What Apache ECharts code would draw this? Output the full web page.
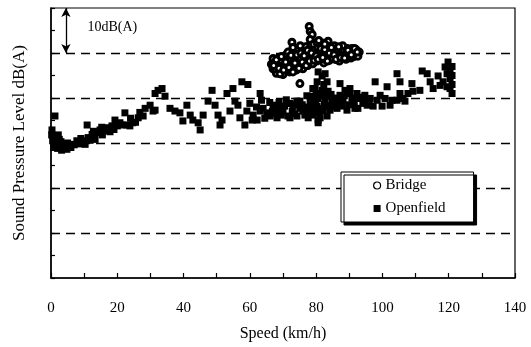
<!DOCTYPE html>
<html>
<head>
<meta charset="utf-8">
<script src="https://cdn.jsdelivr.net/npm/echarts@6/dist/echarts.min.js"></script>
<style>
html,body{margin:0;padding:0;background:#fff;}
#chart{width:531px;height:347px;}
</style>
</head>
<body>
<div id="chart"></div>
<script>
// Speed (km/h) vs Sound Pressure Level dB(A) (relative scale, 10 dB per dashed line)
const xTicks = [0, 20, 40, 60, 80, 100, 120, 140];
const seriesNames = ['Bridge', 'Openfield'];

const bridge = [
  [66.5,87.5],[67,86.5],[67.5,88.2],[68,85.5],[68.2,87],[68.8,89],[69,86],[69.5,87.8],[70,85.2],[70.2,88.5],
  [70.8,86.8],[71,89.6],[71.5,87.5],[72,85.8],[72.2,88.8],[72.8,90.2],[73,87],[73.5,89.2],[74,86.2],[74.2,88],
  [74.8,90.5],[75,87.5],[75.5,89],[76,86.8],[76.2,90.8],[76.8,88.3],[77,89.8],
  [77.5,87.2],[78,90.4],[78.3,88.6],[78.8,91],[79,87.6],[79.5,89.5],[80,90.8],[80.2,88.2],[80.8,89.9],
  [81,91.5],[81.5,88.8],[82,90.4],[82.3,87.8],[82.8,91.2],[83,89.2],[83.5,90.6],[84,88.4],[84.2,91.4],
  [84.8,89.6],[85.2,90.8],[85.8,88.6],[86,91.2],[86.5,89.8],[87,88.2],[87.3,90.6],[87.8,91.3],[88.2,89.4],
  [88.6,90.4],[89,88.6],[89.4,91],[89.8,89.8],[90.2,90.6],[90.5,88.9],[91,90],[91.4,89.2],[91.8,90.5],[92.2,89.6],
  [77.9,95.9],[78.2,94.8],[78.8,94.1],[78.2,93],[79,91.9],[77.6,91.5],[72.7,92.4],[83.6,92.6],[83.3,91.5],
  [75.1,83.2],[69.1,85.4],[67.6,86.5],[76,86.5],[90.2,89.1],[92.6,89.3],
  [67,88.8],[68.5,87.8],[69.2,88.4],[70.5,87.2],[71.2,86.2],[71.8,88.4],[72.5,87.4],[73.2,88.2],[73.8,90],
  [74.5,87.2],[75.2,88.6],[75.8,90.2],[76.5,87.6],[77.2,88.8],[77.8,89.6],[78.5,89.2],[79.2,90.6],[79.8,88.8],
  [80.5,91.2],[81.2,90.2],[81.8,89.4],[82.5,88.6],[83.2,90],[83.8,91],[84.5,90.2],[85,88.8],[85.5,91.6],
  [86.2,90.4],[86.8,89.2],[87.5,89.8],[88,90.8],[88.8,89.6],[89.2,90.2],[90,89.4],[90.8,91],[91.2,89.8],
  [92,90.8],[93,90.2],[80.2,92.4],[81.8,92.2],[76.8,91.4],[74,91],
  [67.2,87.2],[68,88.5],[68.8,86.6],[69.5,89.2],[70.2,86.2],[70.8,88],[71.5,90.2],[71.8,86.8],[72.4,89.5],
  [73,85.8],[73.6,87.8],[74.2,89.6],[74.8,86.6],[75.4,90],[75.8,88],[76.4,89.4],[77,87.2],[77.4,90.6],
  [78,88.2],[78.6,90],[79.4,88.4],[80,89.4],[80.6,88.6],[81.4,91],[82,89],[82.6,90.8],[83.4,88.2],[84,90],
  [84.6,91.2],[85.4,89.6],[86,88.6],[86.6,90.8],[87.4,89],[88,91.6],[88.6,88.9],[89.6,90.6],[90.6,89.6],
  [91.6,91],[92.4,90.2],[86.8,91.4],[80.8,92.8],[82.6,92],[75.2,91.6],[73,91.2]
];

const openfield = [
  [1.2,76],[0.3,72.9],[0.6,71.6],[1.8,70.5],[2.7,69.7],[3.6,69],[4.8,68.6],[1.2,69.5],[0.5,70.5],[2.2,71.8],
  [3,70.3],[4.2,69.8],[5.5,69.2],
  [0.2,71.8],[0.8,69],[1.5,71],[2,68.8],[2.5,70.8],[3.2,68.4],[4,69.2],[5,70],[6,69],[7,69.6],[8.5,69.8],
  [9,71],[11.8,70.6],[12.8,72.6],[15.5,71.8],[15.3,73.5],[17.8,72.5],[19,73],[20,73.8],[21.5,74],[24,75.5],
  [25.5,74.6],[26.8,76.8],
  [6.3,69.7],[7.8,70.5],[9.4,70.5],[10.3,69.7],[11.2,71.2],[10.9,74],[12.4,71.9],[13.9,72.3],[13.3,70.8],
  [14.8,72.9],[16.3,72.7],[17.2,73.4],[18.4,73.8],[19.3,75.1],[20.8,74.5],[22.3,76.7],[22.9,74],[23.8,73.8],
  [24.7,74.5],[26.3,75.6],[27.8,76],[28.4,77.7],[29.9,78.4],[30.8,77.1],
  [32.3,81.7],[33.5,82.1],[34.4,80.4],[31.4,81],[31.4,77.3],
  [35.9,77.7],[37.4,77.1],[38.9,76.7],[41,78.4],[39.8,74.9],[42,76.2],[42.8,75.1],[44.4,74.5],[45,72.9],[45.9,76.2],
  [48.6,81.7],[47.4,79.3],[49.5,78.4],[50.4,76.2],[51.6,75.1],[51,74],[53.1,81],[54,77.1],[54.9,82.1],[55.5,79.3],
  [56.4,78.4],[57.6,83.6],[59.4,83],[57,75.6],[58.5,74],[59.1,77.1],[60,78.8],[61,76.2],[62.2,75.1],[63.1,81],
  [64,77.7],[65.2,76.7],
  [60.7,75.1],[66.1,76],[68.2,77.7],[70,77.1],[71.5,76],[72.1,78.8],[74.2,79.3],[75.1,77.7],[76.6,76.2],
  [78.2,79.9],[79,82.1],[80.3,83.6],[81.8,84.9],[82.1,77.1],[80.6,75.1],[77.6,75.6],
  [62,78],[63.5,79.5],[64.5,75.5],[66,79],[66.8,77],[67.8,76.5],[68.8,79],[69.5,76.2],[70.5,78.2],[71,79.6],
  [72.8,77],[73.5,76.5],[74,78.5],[75.8,78.5],[76.8,78],[77.2,80.5],[77.8,77],[78.5,76.8],[79.5,77.5],[79.8,79],
  [80,81],[80.8,76.8],[81.5,80.5],[82.3,83],[82.5,78.6],[83,80.4],[83.8,78.3],[84.5,80.8],[85,78],[85.5,80],
  [86,79],[86.8,79.2],[87.8,78.2],[88.5,80.5],[89.8,78.5],[90.8,80],[91.5,78.8],[93.8,80.2],[95,79.5],[96,78.8],
  [80.6,85.8],[82.7,85.4],[83.3,83.6],[79.7,82.1],[81.8,81.7],[83.6,81.5],[78.8,80.4],[80.6,79.9],[82.7,79.5],
  [84.8,79.3],[78.2,78.4],[80.3,78.2],[82.1,77.7],[84.2,77.3],[79.1,76.2],[81.2,75.6],[83.3,76],[80.6,74.5],
  [67,78.4],[69.1,77.7],[71.2,78.8],[73,78.2],[75.1,79.3],[76,77.1],[74.2,76],[72.1,75.6],[65.2,76.2],
  [63.1,77.1],[68.2,75.6],
  [87.2,83.2],[88.7,81.7],[90.2,81],[88.1,79.5],[92.3,79.9],[94.1,78.8],[86.3,77.7],[89.3,77.3],[91.7,77.7],[87.2,80.6],
  [97.8,83.6],[101.4,82.5],[104.4,85.4],[105.3,83.6],[108.9,83.2],[112,86],[113.5,85.4],[116.8,84.9],[118.9,86.9],
  [119.8,88],[120.4,84.3],[120.4,82.1],[121,81],[118.3,83.6],[117.4,82.8],[115.3,82.1],[114.4,83.6],[111.3,81.7],
  [109.2,81.5],[107.7,81],[106.2,79.9],[105.3,81],[106.8,79.3],[104.4,79.5],[102.9,79.5],[100.8,79.9],[99.3,80.6],
  [98.4,79.5],[96.3,79.9],[94.7,80.6],[93.2,79.9],[92.3,81],[95.4,78.4],[92.6,77.7],[91.1,79.3],[90.2,82.1],
  [102.3,78.4],[99.9,78.2],[97.2,78.2],[120.4,86.5],[119.5,85.4],[121,87],[121,85],[121,83],[119.5,82.5]
];

const arrowSpan = [[4.5, 100], [4.5, 90]];
const arrowLabel = '10dB(A)';
const arrowLabelPos = [11, 95.7];

const font = 'Liberation Serif';
const chart = echarts.init(document.getElementById('chart'), null, {renderer: 'canvas'});
chart.setOption({
  animation: false,
  backgroundColor: '#fff',
  textStyle: {fontFamily: font, color: '#000'},
  grid: {left: 51, right: 16, top: 8, bottom: 64, show: true, borderColor: '#000', borderWidth: 1.2, backgroundColor: 'transparent'},
  legend: {
    data: [
      {name: seriesNames[0], icon: 'circle', itemStyle: {color: '#fff', borderColor: '#000', borderWidth: 1.2}},
      {name: seriesNames[1], icon: 'rect'}
    ],
    orient: 'vertical',
    left: 341, top: 172,
    padding: [6, 28, 6, 32],
    itemGap: 8,
    itemWidth: 7, itemHeight: 7,
    backgroundColor: '#fff',
    borderColor: '#000', borderWidth: 1,
    shadowColor: '#000', shadowBlur: 0, shadowOffsetX: 3, shadowOffsetY: 3,
    textStyle: {fontFamily: font, fontSize: 15, color: '#000'}
  },
  xAxis: {
    type: 'value', min: xTicks[0], max: xTicks[xTicks.length - 1], interval: 10,
    name: 'Speed (km/h)', nameLocation: 'middle', nameGap: 48,
    nameTextStyle: {fontFamily: font, fontSize: 16, color: '#000'},
    axisLine: {lineStyle: {color: '#000', width: 1.5}},
    axisTick: {inside: true, length: 5, lineStyle: {color: '#000', width: 1.2}},
    axisLabel: {margin: 23, fontFamily: font, fontSize: 15, color: '#000',
      formatter: v => (xTicks.indexOf(v) >= 0 ? String(v) : '')},
    splitLine: {show: false}
  },
  yAxis: {
    type: 'value', min: 40, max: 100, interval: 10,
    name: 'Sound Pressure Level dB(A)', nameLocation: 'middle', nameGap: 23,
    nameTextStyle: {fontFamily: font, fontSize: 17, color: '#000'},
    axisLine: {show: true, lineStyle: {color: '#000', width: 1.5}},
    axisTick: {show: true, inside: true, length: 4, lineStyle: {color: '#000', width: 1.2}},
    minorTick: {show: true, splitNumber: 2, length: 4, lineStyle: {color: '#000', width: 1.2}},
    axisLabel: {show: false},
    splitLine: {show: true, showMinLine: false, showMaxLine: false,
      lineStyle: {color: '#000', width: 1.3, type: [9, 6]}}
  },
  series: [
    {
      name: 'Openfield', type: 'scatter', symbol: 'rect', symbolSize: 7,
      itemStyle: {color: '#000', opacity: 1},
      data: openfield,
      markLine: {
        silent: true, symbol: ['arrow', 'arrow'], symbolSize: [7, 9],
        lineStyle: {color: '#000', width: 1.3, type: 'solid'},
        label: {show: false},
        data: [[{coord: arrowSpan[0]}, {coord: arrowSpan[1]}]]
      }
    },
    {
      name: 'Bridge', type: 'scatter', symbol: 'circle', symbolSize: 6,
      itemStyle: {color: '#fff', borderColor: '#000', borderWidth: 3, opacity: 1},
      data: bridge
    }
  ]
});
const p = chart.convertToPixel({gridIndex: 0}, arrowLabelPos);
chart.setOption({
  graphic: [{
    type: 'text', x: p[0], y: p[1],
    style: {text: arrowLabel, font: '14px "Liberation Serif"', fill: '#000', textAlign: 'left', textVerticalAlign: 'middle'}
  }]
});
</script>
</body>
</html>
